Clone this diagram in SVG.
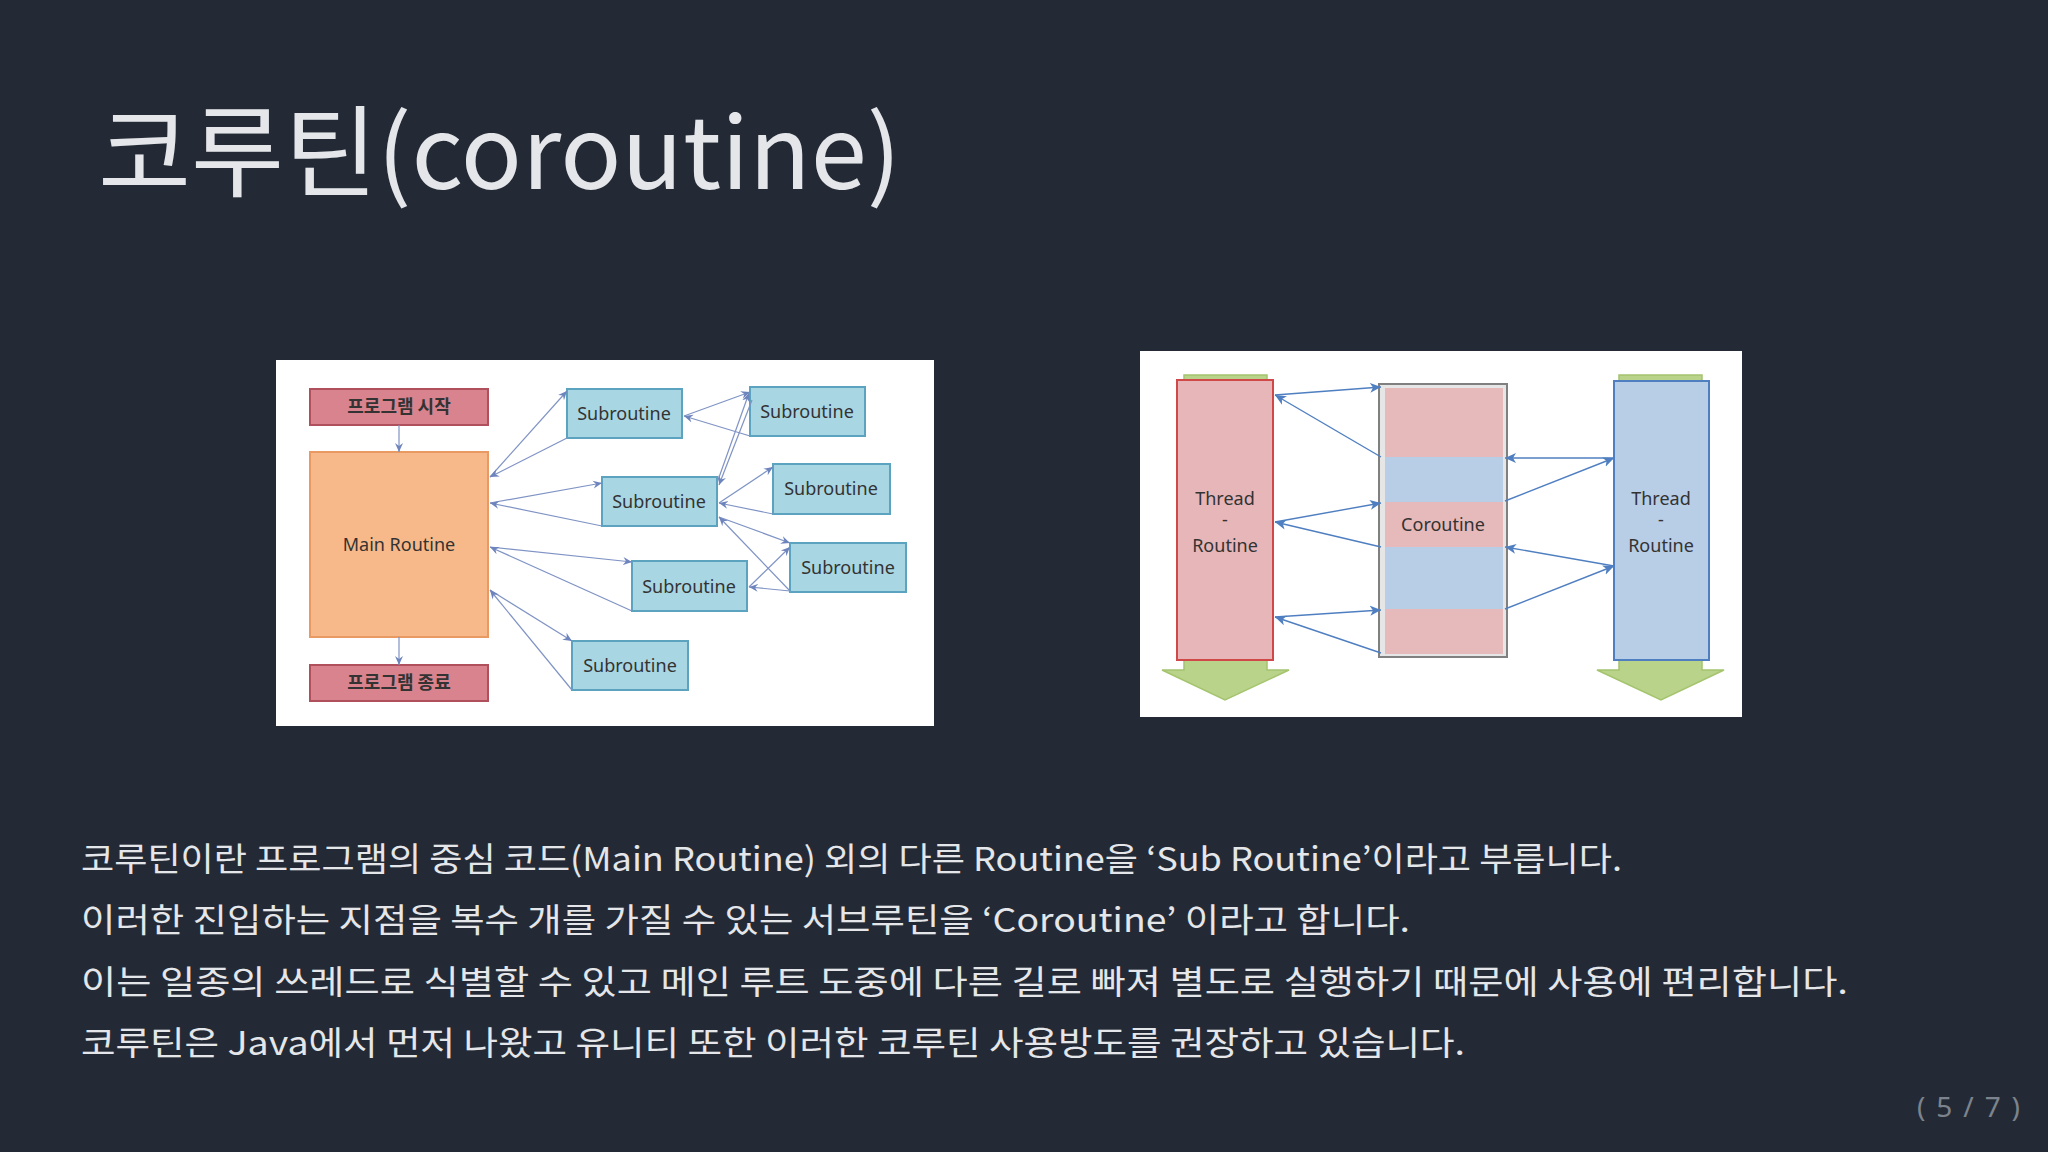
<svg xmlns="http://www.w3.org/2000/svg" width="2048" height="1152" viewBox="0 0 2048 1152">
<style>
.t{font-family:"Noto Sans CJK KR","Noto Sans",sans-serif;fill:#e4e6ea}
.b{font-size:33px}
.s{font-family:"Noto Sans","Noto Sans CJK KR",sans-serif;font-size:18px;fill:#333;text-anchor:middle}
.k{font-family:"Noto Sans CJK KR",sans-serif;font-size:18px;fill:#333;text-anchor:middle;font-weight:bold}
.sub{fill:#a9d6e3;stroke:#5ba3bf;stroke-width:2}
.red{fill:#d9838f;stroke:#b0505c;stroke-width:2}
.c1 line{stroke:#7f93c4;stroke-width:1.2;marker-end:url(#a)}
.c2 line{stroke:#4f7fc0;stroke-width:1.4;marker-end:url(#a2)}
.g{fill:#b9d38a;stroke:#a4c46e;stroke-width:1.5}
</style>
<defs>
<marker id="a" markerWidth="10" markerHeight="10" refX="9" refY="5" orient="auto" markerUnits="userSpaceOnUse"><path d="M0,1 L9,5 L0,9 L3,5 Z" fill="#6d84bd"/></marker>
<marker id="a2" markerWidth="12" markerHeight="12" refX="11" refY="6" orient="auto" markerUnits="userSpaceOnUse"><path d="M0,1 L11,6 L0,11 L3,6 Z" fill="#4f7fc0"/></marker>
</defs>
<rect width="2048" height="1152" fill="#232a35"/>
<text class="t" x="98" y="189" font-size="100" textLength="803" lengthAdjust="spacingAndGlyphs">코루틴(coroutine)</text>

<g id="left-diagram">
<rect x="276" y="360" width="658" height="366" fill="#fff"/>
<g id="start"><rect class="red" x="310" y="389" width="178" height="36"/><text class="k" x="399" y="413">프로그램 시작</text></g>
<g id="main"><rect x="310" y="452" width="178" height="185" fill="#f8b98a" stroke="#e89a62" stroke-width="2"/><text class="s" x="399" y="551">Main Routine</text></g>
<g id="end"><rect class="red" x="310" y="665" width="178" height="36"/><text class="k" x="399" y="689">프로그램 종료</text></g>
<g id="sub1"><rect class="sub" x="567" y="389" width="115" height="49"/><text class="s" x="624" y="420">Subroutine</text></g>
<g id="sub2"><rect class="sub" x="750" y="387" width="115" height="49"/><text class="s" x="807" y="418">Subroutine</text></g>
<g id="sub3"><rect class="sub" x="602" y="477" width="115" height="49"/><text class="s" x="659" y="508">Subroutine</text></g>
<g id="sub4"><rect class="sub" x="773" y="464" width="117" height="50"/><text class="s" x="831" y="495">Subroutine</text></g>
<g id="sub5"><rect class="sub" x="790" y="543" width="116" height="49"/><text class="s" x="848" y="574">Subroutine</text></g>
<g id="sub6"><rect class="sub" x="632" y="561" width="115" height="50"/><text class="s" x="689" y="593">Subroutine</text></g>
<g id="sub7"><rect class="sub" x="572" y="641" width="116" height="49"/><text class="s" x="630" y="672">Subroutine</text></g>
</g>

<g id="connectors-left" class="c1">
<line x1="399" y1="425" x2="399" y2="452"/>
<line x1="399" y1="637" x2="399" y2="665"/>
<line x1="490" y1="477" x2="567" y2="391"/>
<line x1="567" y1="438" x2="490" y2="477"/>
<line x1="490" y1="503" x2="602" y2="483"/>
<line x1="602" y1="526" x2="490" y2="503"/>
<line x1="490" y1="547" x2="632" y2="562"/>
<line x1="632" y1="611" x2="490" y2="547"/>
<line x1="490" y1="590" x2="572" y2="641"/>
<line x1="572" y1="690" x2="490" y2="590"/>
<line x1="684" y1="416" x2="750" y2="392"/>
<line x1="750" y1="436" x2="684" y2="416"/>
<line x1="717" y1="483" x2="749" y2="393"/>
<line x1="752" y1="400" x2="719" y2="485"/>
<line x1="719" y1="503" x2="773" y2="467"/>
<line x1="773" y1="514" x2="719" y2="503"/>
<line x1="719" y1="517" x2="790" y2="543"/>
<line x1="790" y1="591" x2="719" y2="517"/>
<line x1="749" y1="587" x2="790" y2="547"/>
<line x1="790" y1="591" x2="749" y2="587"/>
</g>

<g id="right-diagram">
<rect x="1140" y="351" width="602" height="366" fill="#fff"/>
<g id="thread-left">
<rect class="g" x="1184" y="375" width="83" height="6"/>
<path class="g" d="M1184,660 L1267,660 L1267,670 L1289,670 L1225,700 L1162,670 L1184,670 Z"/>
<rect x="1177" y="380" width="96" height="280" fill="#e7b6b8" stroke="#d04848" stroke-width="2"/>
<text class="s" x="1225" y="505" font-size="19">Thread</text>
<text class="s" x="1225" y="526" font-size="19">-</text>
<text class="s" x="1225" y="552" font-size="19">Routine</text>
</g>
<g id="coroutine">
<rect x="1379" y="384" width="128" height="273" fill="#e6e6e6" stroke="#808080" stroke-width="2"/>
<rect x="1385" y="388" width="118" height="69" fill="#e6b9bb"/>
<rect x="1385" y="457" width="118" height="45" fill="#b8cde6"/>
<rect x="1385" y="502" width="118" height="45" fill="#e6b9bb"/>
<rect x="1385" y="547" width="118" height="62" fill="#b8cde6"/>
<rect x="1385" y="609" width="118" height="45" fill="#e6b9bb"/>
<text class="s" x="1443" y="531" font-size="19">Coroutine</text>
</g>
<g id="thread-right">
<rect class="g" x="1619" y="375" width="83" height="6"/>
<path class="g" d="M1619,660 L1702,660 L1702,670 L1724,670 L1661,700 L1597,670 L1619,670 Z"/>
<rect x="1614" y="381" width="95" height="279" fill="#b8cde6" stroke="#4f7fc0" stroke-width="2"/>
<text class="s" x="1661" y="505" font-size="19">Thread</text>
<text class="s" x="1661" y="526" font-size="19">-</text>
<text class="s" x="1661" y="552" font-size="19">Routine</text>
</g>
</g>

<g id="connectors-right" class="c2">
<line x1="1275" y1="395" x2="1381" y2="387"/>
<line x1="1381" y1="457" x2="1275" y2="395"/>
<line x1="1275" y1="522" x2="1381" y2="503"/>
<line x1="1381" y1="547" x2="1275" y2="522"/>
<line x1="1275" y1="617" x2="1381" y2="610"/>
<line x1="1381" y1="653" x2="1275" y2="617"/>
<line x1="1614" y1="458" x2="1505" y2="458"/>
<line x1="1505" y1="501" x2="1614" y2="458"/>
<line x1="1614" y1="566" x2="1505" y2="547"/>
<line x1="1505" y1="609" x2="1614" y2="566"/>
</g>

<g id="body">
<text class="t b" x="81" y="871" textLength="1541" lengthAdjust="spacingAndGlyphs">코루틴이란 프로그램의 중심 코드(Main Routine) 외의 다른 Routine을 ‘Sub Routine’이라고 부릅니다.</text>
<text class="t b" x="81" y="932" textLength="1329" lengthAdjust="spacingAndGlyphs">이러한 진입하는 지점을 복수 개를 가질 수 있는 서브루틴을 ‘Coroutine’ 이라고 합니다.</text>
<text class="t b" x="81" y="994" textLength="1767" lengthAdjust="spacingAndGlyphs">이는 일종의 쓰레드로 식별할 수 있고 메인 루트 도중에 다른 길로 빠져 별도로 실행하기 때문에 사용에 편리합니다.</text>
<text class="t b" x="81" y="1055" textLength="1384" lengthAdjust="spacingAndGlyphs">코루틴은 Java에서 먼저 나왔고 유니티 또한 이러한 코루틴 사용방도를 권장하고 있습니다.</text>
</g>
<text x="1917" y="1117" font-family="Noto Sans, sans-serif" font-size="28" fill="#7d838c" textLength="103" lengthAdjust="spacing">( 5 / 7 )</text>
</svg>
